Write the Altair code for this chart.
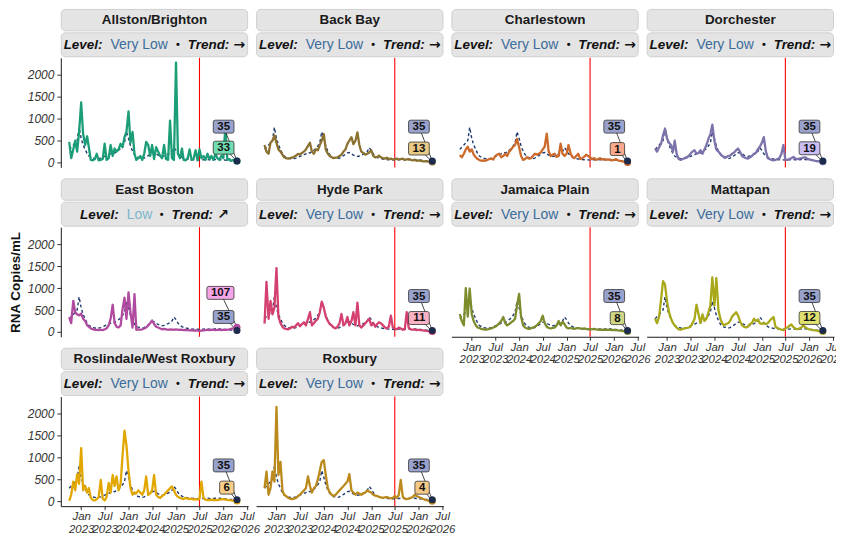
import altair as alt
import pandas as pd

FONT = "Liberation Sans"
ARROW_FONT = "DejaVu Sans"

NEIGHBORHOODS = ["Allston/Brighton", "Back Bay", "Charlestown", "Dorchester",
                 "East Boston", "Hyde Park", "Jamaica Plain", "Mattapan",
                 "Roslindale/West Roxbury", "Roxbury"]
LEVELS = ["Very Low", "Very Low", "Very Low", "Very Low", "Low",
          "Very Low", "Very Low", "Very Low", "Very Low", "Very Low"]
TRENDS = ["→", "→", "→", "→", "↗", "→", "→", "→", "→", "→"]

# semi-monthly sampling dates (1st and 16th), Oct 2022 .. Apr 2026
MONTHS = [(2022, 10), (2022, 11), (2022, 12)] + \
         [(y, m) for y in (2023, 2024, 2025) for m in range(1, 13)] + \
         [(2026, m) for m in range(1, 5)]
DATES = [f"{y}-{m:02d}-{d:02d}T00:00:00" for (y, m) in MONTHS for d in (1, 16)]

ALLSTON = [470,100,300,500,250,700,1370,650,400,600,
           350,60,50,80,200,50,60,80,430,60,
           100,400,150,320,250,300,430,350,580,700,
           1165,450,700,200,60,100,150,60,200,470,
           400,150,400,80,350,250,150,100,400,80,
           60,955,100,60,2280,200,100,320,60,50,
           100,300,60,80,280,50,300,100,150,60,
           200,80,150,60,200,100,60,150,100,800,
           60,80,40,60,40,33]
BACK_BAY = [400,250,200,450,500,620,450,300,250,180,
            120,100,90,100,110,130,160,200,180,220,
            250,300,380,450,250,200,300,280,400,500,
            650,300,200,150,120,100,110,120,150,180,
            250,300,430,500,580,420,500,690,400,250,
            220,180,200,230,280,150,120,130,160,120,
            100,90,110,80,90,70,80,90,70,80,
            90,60,70,80,60,50,60,40,50,40,
            30,25,30,20,15,13]
CHARLESTOWN = [170,120,200,300,360,250,300,180,120,80,
               60,40,50,40,60,80,90,70,150,180,
               200,120,150,200,150,250,300,360,400,540,
               350,150,60,80,120,90,100,150,200,180,
               200,230,300,360,660,250,150,180,200,130,
               150,430,200,150,200,400,200,130,100,150,
               200,80,100,130,180,150,120,80,100,60,
               80,100,70,80,60,70,60,50,60,80,
               50,40,30,20,10,1]
DORCHESTER = [320,250,350,430,620,770,550,450,400,250,
              500,200,80,60,80,100,120,150,200,250,
              280,200,220,280,200,300,400,540,650,865,
              500,300,250,200,150,130,120,150,160,200,
              230,280,320,250,150,120,100,90,120,150,
              200,220,300,360,450,580,250,100,80,60,
              50,60,80,100,200,400,60,60,80,100,
              130,90,80,90,100,110,120,90,70,60,
              50,40,30,25,20,19]
EAST_BOSTON = [340,200,710,450,400,380,420,300,250,150,
               120,80,60,50,45,40,50,40,60,80,
               150,300,620,200,120,100,150,520,780,300,
               900,450,100,860,50,60,50,60,80,100,
               150,200,260,180,120,100,80,60,70,60,
               50,60,55,50,60,50,45,50,40,45,
               40,35,40,30,35,30,25,30,35,40,
               50,40,45,50,40,45,50,40,50,45,
               50,60,70,80,100,107]
HYDE_PARK = [190,1140,300,710,400,550,1455,350,200,120,
             80,70,60,80,120,100,150,200,130,180,
             220,150,300,450,150,200,260,300,450,690,
             550,350,250,180,150,100,80,120,200,410,
             150,200,340,150,250,450,150,670,150,100,
             150,200,250,300,150,200,120,180,220,200,
             150,100,80,120,370,100,80,60,100,80,
             50,60,450,100,60,50,60,40,50,40,
             35,30,25,20,15,11]
JAMAICA_PLAIN = [410,250,150,1000,350,990,400,250,150,100,
                 90,70,60,50,60,70,80,100,120,150,
                 200,250,340,200,150,180,220,250,300,600,
                 870,350,150,100,80,70,80,100,120,150,
                 200,250,370,200,120,90,80,90,100,150,
                 250,150,230,180,100,80,90,80,70,80,
                 90,80,70,80,70,60,70,60,70,60,
                 50,55,50,45,50,45,50,40,45,40,
                 35,30,25,20,12,8]
MATTAPAN = [300,200,350,750,1160,1080,700,450,300,200,
            150,100,60,50,70,80,90,100,120,200,
            300,620,400,200,400,250,300,450,600,1245,
            600,1230,500,300,200,150,180,200,250,350,
            400,450,380,250,150,120,100,120,180,200,
            300,250,280,200,180,200,180,200,250,300,
            340,120,90,70,50,40,80,100,140,170,
            110,80,60,80,100,150,110,80,60,50,
            40,35,30,20,15,12]
ROSLINDALE = [10,150,450,250,620,400,1215,250,350,200,
              300,80,30,20,50,100,490,60,20,100,
              420,200,600,350,570,250,400,1050,1610,1275,
              700,300,150,200,180,250,200,150,250,570,
              150,180,250,600,150,100,80,120,150,200,
              250,300,340,250,150,100,80,60,50,80,
              60,50,60,40,50,40,60,450,80,40,
              30,30,40,30,35,30,40,45,50,40,
              35,30,20,15,10,6]
ROXBURY = [300,680,150,300,680,450,2155,600,900,250,
           150,120,80,60,50,60,80,120,150,200,
           250,300,570,350,200,300,350,500,700,900,
           940,600,300,200,150,120,150,200,250,300,
           350,400,450,620,250,200,150,200,180,150,
           180,200,250,220,200,150,130,120,100,90,
           80,90,100,80,70,80,120,80,150,490,
           100,60,50,60,80,100,150,120,100,80,
           60,40,25,15,8,4]
BOSTON = [300,350,400,450,500,800,550,400,300,200,
          150,120,100,90,80,90,100,120,140,160,
          180,200,230,220,240,280,320,380,450,700,
          550,380,260,180,130,110,100,90,100,130,
          160,190,220,230,200,170,150,140,150,170,
          190,210,250,340,280,200,150,120,100,90,
          80,75,70,65,60,60,55,60,65,70,
          70,65,60,65,70,75,70,65,60,55,
          50,45,42,40,38,35]

SERIES = [ALLSTON, BACK_BAY, CHARLESTOWN, DORCHESTER, EAST_BOSTON,
          HYDE_PARK, JAMAICA_PLAIN, MATTAPAN, ROSLINDALE, ROXBURY]
for s in SERIES + [BOSTON]:
    assert len(s) == len(DATES)

LINE_COLORS = ["#1b9e77", "#8c7230", "#cc6a2c", "#7e72ab", "#b04a9f",
               "#d4406f", "#7d8d2d", "#a9a818", "#e1a700", "#bb8a1d"]
LABEL_COLORS = ["#72dcb2", "#e8c985", "#f7a98b", "#c9bdf2", "#f6a4e8",
                "#f9b2c4", "#cfd684", "#e0e070", "#f8cd8a", "#f6c987"]
LEVEL_COLORS = {"Very Low": "#3b6c9b", "Low": "#7db5cb"}
BOSTON_LINE = "#1f3a6f"
BOSTON_DOT = "#1c2a4c"
BOSTON_LABEL = "#98a2cc"

X_TICKS = [(2023, 1), (2023, 7), (2024, 1), (2024, 7),
           (2025, 1), (2025, 7), (2026, 1), (2026, 7)]
X_DOMAIN = [(2022, 7, 28), (2026, 7, 11)]
MARKER_DATE = "2025-07-01T00:00:00"
Y_TICKS = [0, 500, 1000, 1500, 2000]
Y_DOMAIN = [-110, 2390]

W, H = 188, 110
FS = 13.5
REG = {' ': 278, 'L': 556, 'V': 667, 'e': 556, 'r': 333, 'y': 500, 'o': 556, 'w': 722}
BOLD = {'L': 611, 'e': 556, 'v': 556, 'l': 278, ':': 333, 'T': 611, 'r': 389,
        'n': 611, 'd': 611}

S1_TOP, S1_BOT = -49, -27
S2_TOP, S2_BOT = -25, -1


def tw(s, table, fs=FS):
    return sum(table.get(c, 556) for c in s) * fs / 1000.0


def box_path(n_chars, dy):
    w = 6.4 * n_chars + 8
    xr, xl = -3.0, -3.0 - w
    yt, yb = dy - 6.5, dy + 6.5
    r = 2
    return (f"M{xl + r},{yt}H{xr - r}Q{xr},{yt} {xr},{yt + r}V{yb - r}"
            f"Q{xr},{yb} {xr - r},{yb}H{xl + r}Q{xl},{yb} {xl},{yb - r}"
            f"V{yt + r}Q{xl},{yt} {xl + r},{yt}Z"), (xl + xr) / 2


UP_DY, LOW_DY = -34.5, -13.5

xscale = alt.Scale(domain=[alt.DateTime(year=y, month=m, date=d) for y, m, d in X_DOMAIN],
                   nice=False)
yscale = alt.Scale(domain=Y_DOMAIN, nice=False, zero=False)


def panel(i):
    name = NEIGHBORHOODS[i]
    vals = SERIES[i]
    col = i % 4
    show_x = i >= 6
    show_y = col == 0

    if show_x:
        xaxis = alt.Axis(
            values=[alt.DateTime(year=y, month=m, date=1) for y, m in X_TICKS],
            labelExpr="[timeFormat(datum.value, '%b'), timeFormat(datum.value, '%Y')]",
            title=None, grid=False, labelFont=FONT, labelFontSize=11.5,
            labelFontStyle="italic", labelColor="#333333", labelLineHeight=12.5,
            labelPadding=1, labelOverlap=False, labelFlush=False,
            tickSize=3.5, tickColor="#333333", domainColor="#1a1a1a", domainWidth=1)
    else:
        xaxis = None
    if show_y:
        yaxis = alt.Axis(
            values=Y_TICKS, format="d", title="RNA Copies/mL" if i == 4 else None,
            titleFont=FONT, titleFontSize=13.5, titleFontWeight="bold",
            titleColor="#111111", titlePadding=5, grid=False,
            labelFont=FONT, labelFontSize=12, labelFontStyle="italic",
            labelColor="#333333", labelPadding=3, tickSize=4,
            tickColor="#333333", domainColor="#1a1a1a", domainWidth=1)
    else:
        yaxis = None

    x = alt.X("date:T", scale=xscale, axis=xaxis)
    y = alt.Y("value:Q", scale=yscale, axis=yaxis)

    df_n = pd.DataFrame({"date": DATES, "value": vals})
    df_b = pd.DataFrame({"date": DATES, "value": BOSTON})

    # end-point labels (higher value goes on top)
    nb_end, bos_end = vals[-1], BOSTON[-1]
    items = [(str(nb_end), nb_end, LABEL_COLORS[i], LINE_COLORS[i]),
             (str(bos_end), bos_end, BOSTON_LABEL, BOSTON_DOT)]
    order = sorted(range(2), key=lambda k: -items[k][1])
    rows = []
    for rank, k in enumerate(order):
        lab, v, fill, dot = items[k]
        dy = UP_DY if rank == 0 else LOW_DY
        path, cx = box_path(len(lab), dy)
        rows.append({"date": DATES[-1], "value": v, "label": lab, "fill": fill,
                     "dot": dot, "pos": "upper" if rank == 0 else "lower",
                     "box": path, "conn": f"M{cx},{dy}L0,0"})
    ends = pd.DataFrame(rows)
    dots = pd.DataFrame([
        {"date": DATES[-1], "value": nb_end, "dot": LINE_COLORS[i]},
        {"date": DATES[-1], "value": bos_end, "dot": BOSTON_DOT}])

    rule = alt.Chart(pd.DataFrame({"date": [MARKER_DATE]})).mark_rule(
        color="#ff0000", strokeWidth=1.1).encode(x=x)
    bline = alt.Chart(df_b).mark_line(color=BOSTON_LINE, strokeWidth=1.4,
                                      strokeDash=[3, 2.5]).encode(x=x, y=y)
    nline = alt.Chart(df_n).mark_line(color=LINE_COLORS[i], strokeWidth=2.3,
                                      strokeJoin="round").encode(x=x, y=y)
    conns = alt.Chart(ends).mark_point(filled=False, opacity=1, size=4,
                                       color="#1a1a1a", strokeWidth=0.8).encode(
        x=x, y=y, shape=alt.Shape("conn:N", scale=None))
    dotl = alt.Chart(dots).mark_circle(size=50, opacity=1).encode(
        x=x, y=y, color=alt.Color("dot:N", scale=None))
    boxes = alt.Chart(ends).mark_point(filled=True, opacity=1, size=4,
                                       stroke="#333333", strokeWidth=0.8).encode(
        x=x, y=y, shape=alt.Shape("box:N", scale=None),
        fill=alt.Fill("fill:N", scale=None))
    up_txt = alt.Chart(ends[ends.pos == "upper"]).mark_text(
        align="right", baseline="middle", dx=-7, dy=UP_DY + 0.5, font=FONT,
        fontSize=11.5, fontWeight="bold", color="#111111").encode(
        x=x, y=y, text="label:N")
    lo_txt = alt.Chart(ends[ends.pos == "lower"]).mark_text(
        align="right", baseline="middle", dx=-7, dy=LOW_DY + 0.5, font=FONT,
        fontSize=11.5, fontWeight="bold", color="#111111").encode(
        x=x, y=y, text="label:N")

    # strips
    sdf = pd.DataFrame({"name": [name], "level": [LEVELS[i]], "trend": [TRENDS[i]]})
    base = alt.Chart(sdf)
    strip1 = base.mark_rect(fill="#e4e4e4", stroke="#cfcfcf", strokeWidth=1,
                            cornerRadius=4).encode(
        x=alt.value(0.5), x2=alt.value(W - 0.5), y=alt.value(S1_TOP + 0.5),
        y2=alt.value(S1_BOT))
    strip2 = base.mark_rect(fill="#e4e4e4", stroke="#cfcfcf", strokeWidth=1,
                            cornerRadius=4).encode(
        x=alt.value(0.5), x2=alt.value(W - 0.5), y=alt.value(S2_TOP),
        y2=alt.value(S2_BOT))
    title = base.mark_text(font=FONT, fontSize=13.5, fontWeight="bold",
                           color="#1a1a1a", baseline="middle").encode(
        x=alt.value(W / 2), y=alt.value((S1_TOP + S1_BOT) / 2 + 0.5), text="name:N")

    lvl = LEVELS[i]
    w_lab = tw("Level:", BOLD)
    w_val = tw(lvl, REG, 14)
    w_bul = 4.7
    w_tr = tw("Trend:", BOLD)
    w_ar = 11.7
    total = w_lab + 8 + w_val + 7 + w_bul + 7.5 + w_tr + 4 + w_ar
    x0 = (W - total) / 2
    x_val = x0 + w_lab + 8
    x_bul = x_val + w_val + 7 + w_bul / 2
    x_tr = x_bul + w_bul / 2 + 7.5
    x_ar = x_tr + w_tr + 4
    ys = (S2_TOP + S2_BOT) / 2 + 0.5
    t_level = base.mark_text(align="left", baseline="middle", font=FONT, fontSize=FS,
                             fontWeight="bold", fontStyle="italic",
                             color="#111111").encode(
        x=alt.value(x0), y=alt.value(ys), text=alt.value("Level:"))
    t_val = base.mark_text(align="left", baseline="middle", font=FONT, fontSize=14,
                           color=LEVEL_COLORS[lvl]).encode(
        x=alt.value(x_val), y=alt.value(ys), text="level:N")
    t_bul = base.mark_text(align="center", baseline="middle", font=FONT, fontSize=11,
                           fontWeight="bold", color="#111111").encode(
        x=alt.value(x_bul), y=alt.value(ys), text=alt.value("•"))
    t_tr = base.mark_text(align="left", baseline="middle", font=FONT, fontSize=FS,
                          fontWeight="bold", fontStyle="italic",
                          color="#111111").encode(
        x=alt.value(x_tr), y=alt.value(ys), text=alt.value("Trend:"))
    t_ar = base.mark_text(align="left", baseline="middle", font=ARROW_FONT,
                          fontSize=14, fontWeight="bold", color="#111111").encode(
        x=alt.value(x_ar), y=alt.value(ys), text="trend:N")

    return alt.layer(rule, bline, nline, conns, dotl, boxes, up_txt, lo_txt,
                     strip1, strip2, title, t_level, t_val, t_bul, t_tr, t_ar
                     ).properties(width=W, height=H)


panels = [panel(i) for i in range(len(NEIGHBORHOODS))]
chart = alt.concat(*panels, columns=4, spacing={"row": 60, "column": 8},
                   bounds="flush").properties(
    padding={"left": 0, "top": 0, "right": -10, "bottom": 0}
).configure(font=FONT).configure_view(stroke="transparent", strokeWidth=0)

chart.save("out.html", embed_options={"renderer": "svg", "actions": False})
